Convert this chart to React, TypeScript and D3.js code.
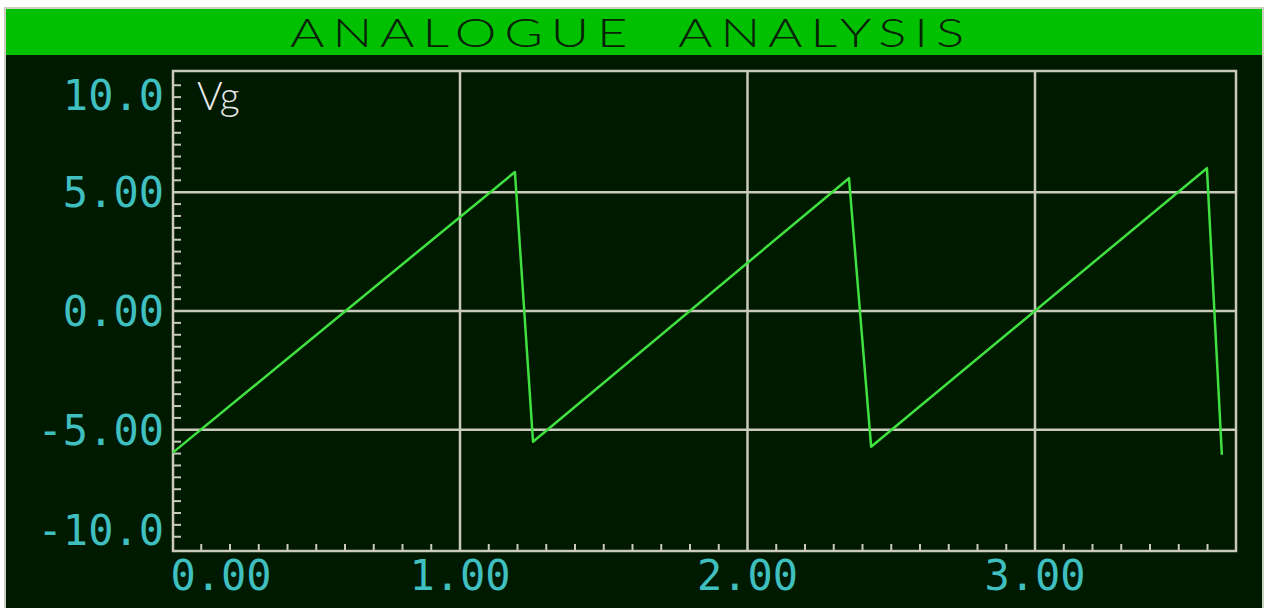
import React from "react";
import * as d3 from "d3";

// waveform Vg
const timeValues = [0, 1.191, 1.254, 2.353, 2.43, 3.598, 3.65];
const vgValues = [-5.97, 5.85, -5.5, 5.59, -5.71, 6.01, -6.05];

const xTicks = [0, 1, 2, 3];
const xTickLabels = ["0.00", "1.00", "2.00", "3.00"];
const yTicks = [10, 5, 0, -5, -10];
const yTickLabels = ["10.0", "5.00", "0.00", "-5.00", "-10.0"];

const title = "ANALOGUE  ANALYSIS";
const traceName = "Vg";

const W = 1269;
const H = 608;
const plot = { left: 173, right: 1236, top: 71, bottom: 551 };

const gridColor = "#c9cabb";
const labelColor = "#3fbfbf";
const traceColor = "#3fe03f";
const bgColor = "#001a00";
const barColor = "#00c000";

const App = () => {
  const x = d3.scaleLinear().domain([0, 3.7]).range([172.5, 1236.25]);
  const y = d3.scaleLinear().domain([-10.1, 10.1]).range([plot.bottom, plot.top]);

  const line = d3
    .line<number>()
    .x((d, i) => x(timeValues[i]))
    .y((d) => y(d));

  const minorX = d3.range(1, 37).map((i) => i / 10).filter((v) => Math.abs(v - Math.round(v)) > 1e-6);
  const minorY = d3.range(-19, 20).map((i) => i / 2).filter((v) => v % 5 !== 0);

  const mono = "'DejaVu Sans Mono', monospace";
  const thin = "Lato, 'DejaVu Sans', sans-serif";

  return (
    <svg
      width={W}
      height={H}
      style={{ position: "absolute", left: 0, top: 0, display: "block" }}
    >
      <rect x={0} y={0} width={W} height={H} fill="#ffffff" />
      <rect x={5} y={8} width={1258} height={H} fill={bgColor} stroke="#c8d0c0" strokeWidth={2} />
      <rect x={6} y={9} width={1256} height={46} fill={barColor} />
      <text
        x={290}
        y={47}
        textLength={682}
        lengthAdjust="spacingAndGlyphs"
        fontFamily={thin}
        fontWeight={300}
        fontSize={40}
        fill="#072207"
        style={{ letterSpacing: "6px", whiteSpace: "pre" }}
      >
        {title}
      </text>

      {/* horizontal grid */}
      {yTicks
        .filter((v) => Math.abs(v) < 10)
        .map((v) => (
          <line key={"gy" + v} x1={plot.left} x2={plot.right} y1={y(v)} y2={y(v)} stroke={gridColor} strokeWidth={2.5} />
        ))}
      {/* vertical grid */}
      {xTicks
        .filter((v) => v > 0)
        .map((v) => (
          <line key={"gx" + v} x1={x(v)} x2={x(v)} y1={plot.top} y2={plot.bottom} stroke={gridColor} strokeWidth={2.5} />
        ))}

      {/* minor ticks */}
      {minorX.map((v) => (
        <line key={"mx" + v} x1={x(v)} x2={x(v)} y1={plot.bottom} y2={plot.bottom - 7} stroke={gridColor} strokeWidth={2} />
      ))}
      {minorY.map((v) => (
        <line key={"my" + v} x1={plot.left} x2={plot.left + 8} y1={y(v)} y2={y(v)} stroke={gridColor} strokeWidth={2} />
      ))}

      {/* frame */}
      <rect
        x={plot.left}
        y={plot.top}
        width={plot.right - plot.left}
        height={plot.bottom - plot.top}
        fill="none"
        stroke={gridColor}
        strokeWidth={2.5}
      />

      <path d={line(vgValues) || ""} fill="none" stroke={traceColor} strokeWidth={2.5} strokeLinejoin="round" />

      <text x={197} y={110} fontFamily={thin} fontWeight={300} fontSize={39} fill="#ececec">
        {traceName}
      </text>

      {/* y labels */}
      {yTicks.map((v, i) => {
        const cy = Math.min(Math.max(y(v), plot.top + 24), plot.bottom - 21);
        return (
          <text
            key={"ly" + v}
            x={164}
            y={cy + 15}
            textAnchor="end"
            fontFamily={mono}
            fontSize={42}
            fill={labelColor}
          >
            {yTickLabels[i]}
          </text>
        );
      })}

      {/* x labels */}
      {xTicks.map((v, i) => {
        const half = 51;
        const cx = Math.max(x(v), 170 + half);
        return (
          <text
            key={"lx" + v}
            x={cx}
            y={590}
            textAnchor="middle"
            fontFamily={mono}
            fontSize={42}
            fill={labelColor}
          >
            {xTickLabels[i]}
          </text>
        );
      })}
    </svg>
  );
};

export default App;
